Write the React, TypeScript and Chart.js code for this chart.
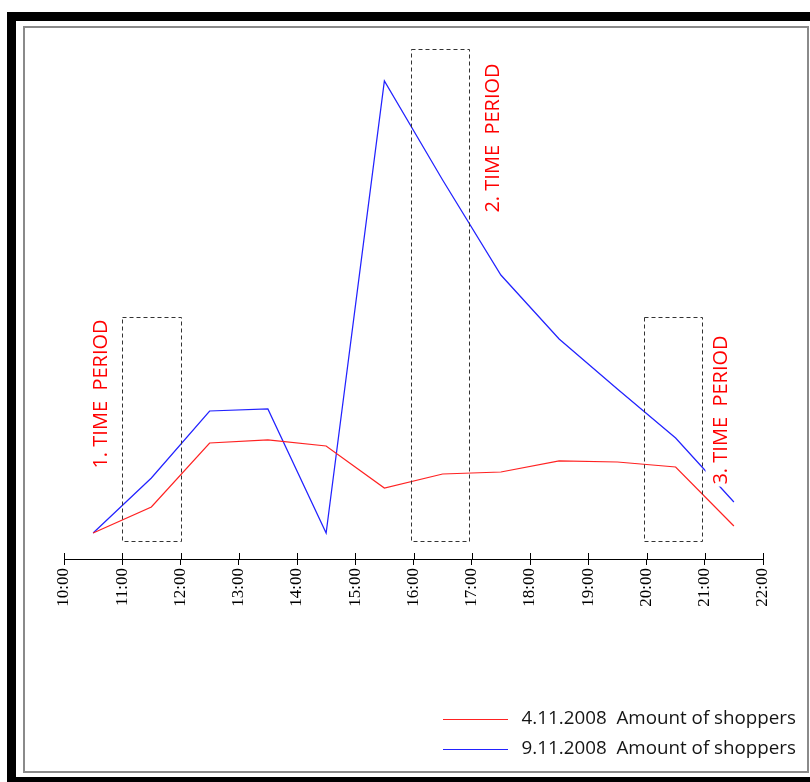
import React, { useEffect, useRef } from 'react';
import { Chart, registerables } from 'chart.js';

Chart.register(...registerables);

// ---- data ----
const hours = [10.5, 11.5, 12.5, 13.5, 14.5, 15.5, 16.5, 17.5, 18.5, 19.5, 20.5, 21.5];
const tickLabels = ['10:00', '11:00', '12:00', '13:00', '14:00', '15:00', '16:00', '17:00', '18:00', '19:00', '20:00', '21:00', '22:00'];
const shoppers0411 = [26, 52, 116, 119, 113, 71, 85, 87, 98, 97, 92, 33];
const shoppers0911 = [26, 81, 148, 150, 26, 478, 379, 284, 220, 170, 121, 57];
const seriesNames = ['4.11.2008  Amount of shoppers', '9.11.2008  Amount of shoppers'];
const periodLabels = ['1. TIME  PERIOD', '2. TIME  PERIOD', '3. TIME  PERIOD'];
const periodStart = [11, 15.96, 19.95];
const periodEnd = [12, 16.96, 20.95];
const periodTop = [242, 510, 242];
const periodBottom = [18, 18, 18];
const periodLabelHour = [10.62, 17.35, 21.27];
const periodLabelValue = [165, 421, 149];

const overlayPlugin = {
  id: 'overlay',
  afterDatasetsDraw(chart: any) {
    const ctx = chart.ctx as CanvasRenderingContext2D;
    const xs = chart.scales.x;
    const ys = chart.scales.y;
    ctx.save();
    // period labels
    ctx.font = '20px "Open Sans"';
    ctx.textAlign = 'center';
    ctx.textBaseline = 'middle';
    periodLabels.forEach((t, i) => {
      const px = xs.getPixelForValue(periodLabelHour[i]);
      const py = ys.getPixelForValue(periodLabelValue[i]);
      ctx.save();
      ctx.translate(px, py);
      ctx.rotate(-Math.PI / 2);
      const w = ctx.measureText(t).width;
      ctx.fillStyle = '#ffffff';
      ctx.fillRect(-w / 2 - 2, -15, w + 4, 28);
      ctx.fillStyle = '#ff0000';
      ctx.fillText(t, 0, 1);
      ctx.restore();
    });
    // dashed period boxes
    ctx.strokeStyle = '#333333';
    ctx.lineWidth = 1;
    ctx.setLineDash([4, 3]);
    periodStart.forEach((s, i) => {
      const x1 = Math.round(xs.getPixelForValue(s)) + 0.5;
      const x2 = Math.round(xs.getPixelForValue(periodEnd[i])) + 0.5;
      const y1 = Math.round(ys.getPixelForValue(periodTop[i])) + 0.5;
      const y2 = Math.round(ys.getPixelForValue(periodBottom[i])) + 0.5;
      ctx.strokeRect(x1, y1, x2 - x1, y2 - y1);
    });
    ctx.restore();
  },
  afterDraw(chart: any) {
    const ctx = chart.ctx as CanvasRenderingContext2D;
    const xs = chart.scales.x;
    ctx.save();
    // upper halves of tick marks
    ctx.strokeStyle = '#000';
    ctx.lineWidth = 1;
    xs.ticks.forEach((t: any) => {
      const px = Math.round(xs.getPixelForValue(t.value)) + 0.5;
      ctx.beginPath();
      ctx.moveTo(px, xs.top - 6);
      ctx.lineTo(px, xs.top);
      ctx.stroke();
    });
    // legend
    ctx.font = '18.8px "Open Sans"';
    ctx.textAlign = 'right';
    ctx.textBaseline = 'middle';
    chart.data.datasets.forEach((ds: any, i: number) => {
      const ly = 719 + i * 30;
      ctx.strokeStyle = ds.borderColor;
      ctx.lineWidth = 1.2;
      ctx.beginPath();
      ctx.moveTo(443, ly + 0.5);
      ctx.lineTo(508, ly + 0.5);
      ctx.stroke();
      ctx.fillStyle = '#151515';
      ctx.fillText(ds.label, 796, ly);
    });
    ctx.restore();
  },
};

export default function App() {
  const ref = useRef<HTMLCanvasElement | null>(null);
  useEffect(() => {
    if (!ref.current) return;
    const chart = new Chart(ref.current, {
      type: 'line',
      data: {
        datasets: [
          {
            label: seriesNames[0],
            data: hours.map((h, i) => ({ x: h, y: shoppers0411[i] })),
            borderColor: '#ff2222',
            borderWidth: 1.25,
            pointRadius: 0,
            tension: 0,
          },
          {
            label: seriesNames[1],
            data: hours.map((h, i) => ({ x: h, y: shoppers0911[i] })),
            borderColor: '#2222ff',
            borderWidth: 1.25,
            pointRadius: 0,
            tension: 0,
          },
        ],
      },
      options: {
        animation: false,
        responsive: true,
        maintainAspectRatio: false,
        devicePixelRatio: 1,
        layout: { padding: { left: 64, right: 47, top: 59, bottom: 163 } },
        plugins: { legend: { display: false }, tooltip: { enabled: false } },
        scales: {
          x: {
            type: 'linear',
            min: 10,
            max: 22,
            afterFit: (s: any) => {
              s.height = 60;
            },
            ticks: {
              stepSize: 1,
              maxRotation: 90,
              minRotation: 90,
              padding: 3,
              color: '#000',
              font: { family: '"Liberation Serif"', size: 17 },
              callback: (v: any) => tickLabels[Math.round(Number(v) - 10)],
            },
            grid: { drawOnChartArea: false, drawTicks: true, tickLength: 6, color: '#000' },
            border: { display: true, color: '#000', width: 1 },
          },
          y: { display: false, min: 0, max: 500 },
        },
      },
      plugins: [overlayPlugin],
    });
    return () => chart.destroy();
  }, []);

  return (
    <div style={{ position: 'fixed', left: 0, top: 0, width: 810, height: 782, overflow: 'hidden', background: '#fff' }}>
      <div style={{ position: 'absolute', left: 7, top: 12, width: 900, height: 900, background: '#000' }} />
      <div style={{ position: 'absolute', left: 16, top: 21, width: 900, height: 756, background: '#fff' }} />
      <div style={{ position: 'absolute', left: 23, top: 26, width: 786, height: 747, border: '2px solid #8a8a8a', boxSizing: 'border-box' }} />
      <div style={{ position: 'absolute', left: 0, top: 0, width: 810, height: 782 }}>
        <canvas ref={ref} />
      </div>
    </div>
  );
}
